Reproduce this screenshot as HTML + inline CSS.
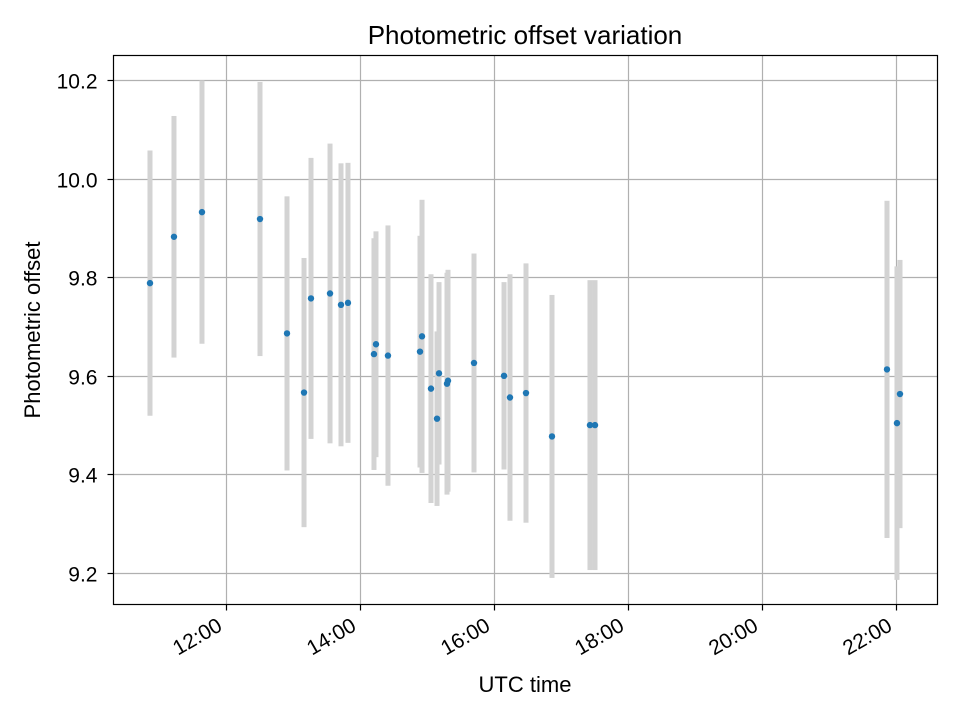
<!DOCTYPE html>
<html><head><meta charset="utf-8"><style>
html,body{margin:0;padding:0;background:#fff}
svg{display:block;font-family:"Liberation Sans","DejaVu Sans",sans-serif}
</style></head><body>
<svg id="chart" width="960" height="720" viewBox="0 0 960 720" xmlns="http://www.w3.org/2000/svg">
<rect width="960" height="720" fill="#fff"/>
<text x="525" y="44" font-size="26" text-anchor="middle">Photometric offset variation</text>
<text x="525" y="692" font-size="22" text-anchor="middle">UTC time</text>
<text transform="translate(40,330) rotate(-90)" font-size="22" text-anchor="middle">Photometric offset</text>
<g id="grid"></g>
<g id="bars"></g>
<g id="pts"></g>
<rect x="113.5" y="55.5" width="824" height="549" fill="none" stroke="#000" stroke-width="1.2"/>
<g id="ticks"></g>
</svg>
<script>
const times = [10.873,11.231,11.649,12.515,12.918,13.172,13.276,13.560,13.724,13.828,14.216,14.246,14.425,14.903,14.933,15.067,15.157,15.187,15.306,15.321,15.709,16.157,16.246,16.485,16.873,17.440,17.515,21.873,22.022,22.067];
const offsets = [9.788,9.882,9.932,9.918,9.686,9.566,9.757,9.767,9.744,9.748,9.644,9.664,9.641,9.649,9.680,9.574,9.513,9.605,9.584,9.590,9.626,9.600,9.556,9.565,9.477,9.500,9.500,9.613,9.504,9.563];
const errors = [0.269,0.245,0.267,0.278,0.278,0.273,0.285,0.304,0.287,0.284,0.235,0.229,0.264,0.235,0.277,0.232,0.177,0.185,0.225,0.225,0.222,0.19,0.25,0.263,0.287,0.294,0.294,0.342,0.318,0.272];
const xTicks = [12,14,16,18,20,22];
const xTickLabels = ["12:00","14:00","16:00","18:00","20:00","22:00"];
const yTicks = [9.2,9.4,9.6,9.8,10.0,10.2];
const yTickLabels = ["9.2","9.4","9.6","9.8","10.0","10.2"];

const L=113.5,R=937.5,T=55.5,B=604.5;
function xs(t){return 225.5+(t-12)*67;}
function ys(v){return 80+(10.2-v)*493;}
const NS="http://www.w3.org/2000/svg";
function mk(tag,attrs,parent){const e=document.createElementNS(NS,tag);for(const k in attrs)e.setAttribute(k,attrs[k]);parent.appendChild(e);return e;}
const grid=document.getElementById('grid'),ticks=document.getElementById('ticks'),bars=document.getElementById('bars'),pts=document.getElementById('pts');
xTicks.forEach((t,i)=>{
  const x=Math.round(xs(t))+0.5;
  const g=mk('line',{x1:x,x2:x,y1:T,y2:B,stroke:'#b0b0b0','stroke-width':1.2},grid);
  
  
  const tk=mk('line',{x1:x,x2:x,y1:B,y2:B+6,stroke:'#000','stroke-width':1.2},ticks);
  
  
  const ax=x-3, ay=B+25;
  const lb=mk('text',{x:ax,y:ay,'font-size':21,'text-anchor':'end',transform:`rotate(-30 ${ax} ${ay})`},ticks);
  
  
  lb.textContent=xTickLabels[i];
});
yTicks.forEach((v,i)=>{
  const y=Math.round(ys(v))+0.5;
  const g=mk('line',{x1:L,x2:R,y1:y,y2:y,stroke:'#b0b0b0','stroke-width':1.2},grid);
  
  
  const tk=mk('line',{x1:L-6,x2:L,y1:y,y2:y,stroke:'#000','stroke-width':1.2},ticks);
  
  
  const lb=mk('text',{x:L-16,y:y+8,'font-size':21,'text-anchor':'end'},ticks);
  
  
  lb.textContent=yTickLabels[i];
});
times.forEach((t,i)=>{
  const x=xs(t);
  const b=mk('rect',{x:x-2.5,y:ys(offsets[i]+errors[i]),width:5,height:ys(offsets[i]-errors[i])-ys(offsets[i]+errors[i]),fill:'#d3d3d3'},bars);
  
  
  const c=mk('circle',{cx:x,cy:ys(offsets[i]),r:3.2,fill:'#1f77b4'},pts);
  
  
});
</script>
</body></html>
